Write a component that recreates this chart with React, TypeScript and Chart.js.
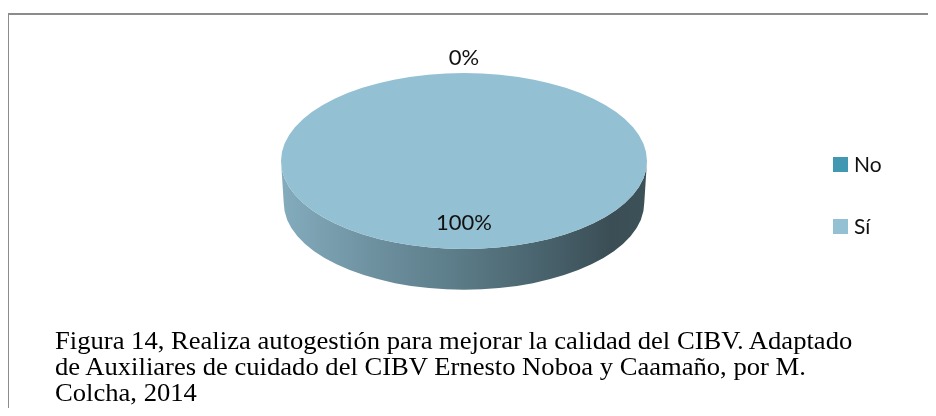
import { useEffect, useRef } from "react";
import { Chart, registerables } from "chart.js";

Chart.register(...registerables);

// ---- data ----
const categories = ["No", "Sí"];
const values = [0, 100];
const sliceColors = ["#4298b0", "#93c0d2"];
const captionLines = [
  "Figura 14, Realiza autogestión para mejorar la calidad del CIBV. Adaptado",
  "de Auxiliares de cuidado del CIBV Ernesto Noboa y Caamaño, por M.",
  "Colcha, 2014",
];

// ---- style ----
const TILT = 0.481;
const DEPTH = 42;
const LABEL_FONT = '22px Lato, "Liberation Sans", sans-serif';
const LEGEND_FONT = '21px Lato, "Liberation Sans", sans-serif';
const TEXT_COLOR = "#111111";
const SIDE_STOPS: [number, string][] = [
  [0, "#84acbd"],
  [0.25, "#6e91a0"],
  [0.5, "#5a7a86"],
  [0.75, "#465f69"],
  [0.9, "#3b4e56"],
  [1, "#3d5159"],
];

function ellipseOf(chart: any) {
  const arc = chart.getDatasetMeta(0).data[0];
  const p = arc.getProps(["x", "y", "outerRadius"], true);
  const top = p.y - p.outerRadius;
  return {
    cx: p.x,
    cy: top + p.outerRadius * TILT,
    rx: p.outerRadius,
    ry: p.outerRadius * TILT,
    top,
  };
}

const pie3d = {
  id: "pie3d",
  beforeDatasetsDraw(chart: any) {
    const ctx = chart.ctx as CanvasRenderingContext2D;
    const e = ellipseOf(chart);
    ctx.save();
    const g = ctx.createLinearGradient(e.cx - e.rx, 0, e.cx + e.rx, 0);
    SIDE_STOPS.forEach(([o, c]) => g.addColorStop(o, c));
    const rx2 = e.rx * 0.985;
    const ry2 = e.ry * 0.985;
    ctx.beginPath();
    ctx.ellipse(e.cx, e.cy, e.rx, e.ry, 0, Math.PI, 0, true);
    ctx.lineTo(e.cx + rx2, e.cy + DEPTH);
    ctx.ellipse(e.cx, e.cy + DEPTH, rx2, ry2, 0, 0, Math.PI, false);
    ctx.closePath();
    ctx.fillStyle = g;
    ctx.fill();
    ctx.restore();
    ctx.save();
    ctx.translate(0, e.top);
    ctx.scale(1, TILT);
    ctx.translate(0, -e.top);
  },
  afterDatasetsDraw(chart: any) {
    const ctx = chart.ctx as CanvasRenderingContext2D;
    ctx.restore();
    const e = ellipseOf(chart);
    const data = chart.data.datasets[0].data as number[];
    const total = data.reduce((a, b) => a + b, 0);
    const meta = chart.getDatasetMeta(0);
    ctx.save();
    ctx.font = LABEL_FONT;
    ctx.fillStyle = TEXT_COLOR;
    ctx.textAlign = "center";
    ctx.textBaseline = "middle";
    meta.data.forEach((arc: any, i: number) => {
      const p = arc.getProps(["startAngle", "endAngle"], true);
      const mid = (p.startAngle + p.endAngle) / 2;
      const frac = total ? data[i] / total : 0;
      const f = frac < 0.05 ? 1.17 : 0.7;
      const x = e.cx + f * e.rx * Math.cos(mid);
      const y = e.cy + f * e.ry * Math.sin(mid);
      ctx.fillText(Math.round(frac * 100) + "%", x, y);
    });
    ctx.restore();
  },
};

const LEGEND_X = 825;
const LEGEND_Y = 149;
const LEGEND_GAP = 62;
const LEGEND_BOX = 15;

const legendPlugin = {
  id: "sideLegend",
  afterDraw(chart: any) {
    const ctx = chart.ctx as CanvasRenderingContext2D;
    const labels = chart.data.labels as string[];
    const colors = chart.data.datasets[0].backgroundColor as string[];
    ctx.save();
    ctx.font = LEGEND_FONT;
    ctx.textBaseline = "middle";
    ctx.textAlign = "left";
    labels.forEach((lab, i) => {
      const y = LEGEND_Y + i * LEGEND_GAP;
      ctx.fillStyle = colors[i];
      ctx.fillRect(LEGEND_X, y, LEGEND_BOX, LEGEND_BOX);
      ctx.fillStyle = TEXT_COLOR;
      ctx.fillText(lab, LEGEND_X + LEGEND_BOX + 6, y + LEGEND_BOX / 2 + 1);
    });
    ctx.restore();
  },
};

export default function App() {
  const ref = useRef<HTMLCanvasElement | null>(null);
  useEffect(() => {
    if (!ref.current) return;
    const chart = new Chart(ref.current, {
      type: "pie",
      data: {
        labels: categories,
        datasets: [
          {
            data: values,
            backgroundColor: sliceColors,
            borderWidth: 0,
            clip: false,
          } as any,
        ],
      },
      options: {
        responsive: false,
        animation: false,
        events: [],
        layout: { padding: { left: 273, right: 281, top: 65, bottom: 19 } },
        plugins: {
          legend: { display: false },
          tooltip: { enabled: false },
        },
      },
      plugins: [pie3d, legendPlugin],
    });
    return () => chart.destroy();
  }, []);

  return (
    <div style={{ position: "relative", width: 920, height: 400 }}>
      <div
        style={{
          position: "absolute",
          left: -1,
          top: 5,
          right: -8,
          bottom: -8,
          borderTop: "2px solid #8c8c8c",
          borderLeft: "2px solid #8c8c8c",
        }}
      />
      <div
        style={{
          position: "absolute",
          left: 0,
          top: 0,
          width: 920,
          height: 400,
          overflow: "hidden",
        }}
      >
        <canvas ref={ref} width={920} height={450} style={{ display: "block" }} />
      </div>
      <div
        style={{
          position: "absolute",
          left: 47,
          top: 320,
          fontFamily: '"Liberation Serif", "Times New Roman", serif',
          fontSize: 25,
          lineHeight: "26px",
          color: "#000",
          whiteSpace: "pre",
          transform: "scaleX(1.064)",
          transformOrigin: "left top",
        }}
      >
        {captionLines.map((l, i) => (
          <div key={i}>{l}</div>
        ))}
      </div>
    </div>
  );
}
